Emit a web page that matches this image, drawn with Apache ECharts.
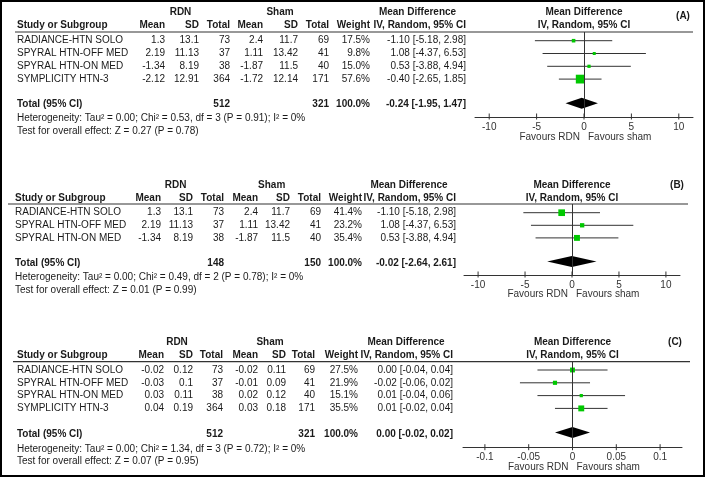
<!DOCTYPE html>
<html>
<head>
<meta charset="utf-8">
<script src="https://cdn.jsdelivr.net/npm/echarts@6/dist/echarts.min.js"></script>
<style>html,body{margin:0;padding:0;background:#fff}#c{width:709px;height:478px}</style>
</head>
<body>
<div id="c"></div>
<script>
// ---------- DATA ----------
const studiesA = ['RADIANCE-HTN SOLO', 'SPYRAL HTN-OFF MED', 'SPYRAL HTN-ON MED', 'SYMPLICITY HTN-3'];
const rdnMeanA = [1.3, 2.19, -1.34, -2.12];
const rdnSdA = [13.1, 11.13, 8.19, 12.91];
const rdnNA = [73, 37, 38, 364];
const shamMeanA = [2.4, 1.11, -1.87, -1.72];
const shamSdA = [11.7, 13.42, 11.5, 12.14];
const shamNA = [69, 41, 40, 171];
const weightA = [17.5, 9.8, 15.0, 57.6];
const mdA = [-1.10, 1.08, 0.53, -0.40];
const lowA = [-5.18, -4.37, -3.88, -2.65];
const highA = [2.98, 6.53, 4.94, 1.85];
const totalA = [512, 321, -0.24, -1.95, 1.47];
const hetA = ['Heterogeneity: Tau² = 0.00; Chi² = 0.53, df = 3 (P = 0.91); I² = 0%', 'Test for overall effect: Z = 0.27 (P = 0.78)'];

const studiesB = ['RADIANCE-HTN SOLO', 'SPYRAL HTN-OFF MED', 'SPYRAL HTN-ON MED'];
const rdnMeanB = [1.3, 2.19, -1.34];
const rdnSdB = [13.1, 11.13, 8.19];
const rdnNB = [73, 37, 38];
const shamMeanB = [2.4, 1.11, -1.87];
const shamSdB = [11.7, 13.42, 11.5];
const shamNB = [69, 41, 40];
const weightB = [41.4, 23.2, 35.4];
const mdB = [-1.10, 1.08, 0.53];
const lowB = [-5.18, -4.37, -3.88];
const highB = [2.98, 6.53, 4.94];
const totalB = [148, 150, -0.02, -2.64, 2.61];
const hetB = ['Heterogeneity: Tau² = 0.00; Chi² = 0.49, df = 2 (P = 0.78); I² = 0%', 'Test for overall effect: Z = 0.01 (P = 0.99)'];

const studiesC = ['RADIANCE-HTN SOLO', 'SPYRAL HTN-OFF MED', 'SPYRAL HTN-ON MED', 'SYMPLICITY HTN-3'];
const rdnMeanC = [-0.02, -0.03, 0.03, 0.04];
const rdnSdC = [0.12, 0.1, 0.11, 0.19];
const rdnNC = [73, 37, 38, 364];
const shamMeanC = [-0.02, -0.01, 0.02, 0.03];
const shamSdC = [0.11, 0.09, 0.12, 0.18];
const shamNC = [69, 41, 40, 171];
const weightC = [27.5, 21.9, 15.1, 35.5];
const mdC = [0.00, -0.02, 0.01, 0.01];
const lowC = [-0.04, -0.06, -0.04, -0.02];
const highC = [0.04, 0.02, 0.06, 0.04];
const totalC = [512, 321, 0.00, -0.02, 0.02];
const hetC = ['Heterogeneity: Tau² = 0.00; Chi² = 1.34, df = 3 (P = 0.72); I² = 0%', 'Test for overall effect: Z = 0.07 (P = 0.95)'];

const ticksAB = [-10, -5, 0, 5, 10];
const ticksC = [-0.1, -0.05, 0, 0.05, 0.1];
const panelLabels = ['(A)', '(B)', '(C)'];
const favourLabels = ['Favours RDN', 'Favours sham'];

// ---------- LAYOUT ----------
const FONT = '"Liberation Sans", Arial, sans-serif';
const TXT = '#1a1a1a';
const GREEN = '#00c800';
const panels = [
  { studies: studiesA, rm: rdnMeanA, rs: rdnSdA, rn: rdnNA, sm: shamMeanA, ss: shamSdA, sn: shamNA, w: weightA, md: mdA, lo: lowA, hi: highA, tot: totalA, het: hetA, ticks: ticksAB, ext: 11.5,
    row0: 40.7, step: 12.8, totIdx: 5, h1: 12.5, h2: 25, hetY: [118, 131], sx: 17,
    cols: [165, 199, 230, 263, 298, 329, 370, 466], rdnC: 180.5, shamC: 280, mdHC: 417.5,
    lineY: 32, lineX1: 15, lineX2: 693, gL: 475, gW: 218, axisY: 117, favY: 137, lab: [683, 16] },
  { studies: studiesB, rm: rdnMeanB, rs: rdnSdB, rn: rdnNB, sm: shamMeanB, ss: shamSdB, sn: shamNB, w: weightB, md: mdB, lo: lowB, hi: highB, tot: totalB, het: hetB, ticks: ticksAB, ext: 11.5,
    row0: 212.7, step: 12.6, totIdx: 4, h1: 185, h2: 198.3, hetY: [277, 290], sx: 15,
    cols: [161, 193, 224, 258, 290, 321, 362, 456], rdnC: 175.7, shamC: 271.7, mdHC: 409,
    lineY: 204, lineX1: 8, lineX2: 688, gL: 464, gW: 216, axisY: 275, favY: 294, lab: [677, 185] },
  { studies: studiesC, rm: rdnMeanC, rs: rdnSdC, rn: rdnNC, sm: shamMeanC, ss: shamSdC, sn: shamNC, w: weightC, md: mdC, lo: lowC, hi: highC, tot: totalC, het: hetC, ticks: ticksC, ext: 0.125,
    row0: 370, step: 12.8, totIdx: 5, h1: 342, h2: 355.7, hetY: [449, 461.7], sx: 17,
    cols: [164, 193, 223, 258, 286, 315, 358, 453], rdnC: 177, shamC: 270, mdHC: 406,
    lineY: 361.7, lineX1: 13, lineX2: 690, gL: 463, gW: 219, axisY: 447.7, favY: 467.7, lab: [675, 342.7] }
];

const graphics = [];
function txt(s, x, y, align, bold, color) {
  graphics.push({ type: 'text', silent: true, style: {
    text: s, x: x, y: y, font: (bold ? 'bold ' : '') + '10px ' + FONT,
    fill: color || TXT, align: align, textAlign: align, verticalAlign: 'middle', textVerticalAlign: 'middle' } });
}
function fmtCI(m, l, h) { return m.toFixed(2) + ' [' + l.toFixed(2) + ', ' + h.toFixed(2) + ']'; }

const grids = [], xAxes = [], yAxes = [], series = [];

panels.forEach(function (p, k) {
  const c = p.cols;
  // headers
  txt('RDN', p.rdnC, p.h1, 'center', true);
  txt('Sham', p.shamC, p.h1, 'center', true);
  txt('Mean Difference', p.mdHC, p.h1, 'center', true);
  txt('Study or Subgroup', p.sx, p.h2, 'left', true);
  ['Mean', 'SD', 'Total', 'Mean', 'SD', 'Total', 'Weight', 'IV, Random, 95% CI'].forEach(function (h, i) {
    txt(h, c[i], p.h2, 'right', true);
  });
  const zeroX = p.gL + p.gW / 2;
  txt('Mean Difference', zeroX, p.h1, 'center', true);
  txt('IV, Random, 95% CI', zeroX, p.h2, 'center', true);
  txt(panelLabels[k], p.lab[0], p.lab[1], 'center', true);
  graphics.push({ type: 'line', silent: true, shape: { x1: p.lineX1, y1: p.lineY, x2: p.lineX2, y2: p.lineY }, style: { stroke: '#333', lineWidth: 1.2 } });
  // rows
  p.studies.forEach(function (s, i) {
    const y = p.row0 + i * p.step;
    txt(s, p.sx, y, 'left');
    txt(String(p.rm[i]), c[0], y, 'right');
    txt(String(p.rs[i]), c[1], y, 'right');
    txt(String(p.rn[i]), c[2], y, 'right');
    txt(String(p.sm[i]), c[3], y, 'right');
    txt(String(p.ss[i]), c[4], y, 'right');
    txt(String(p.sn[i]), c[5], y, 'right');
    txt(p.w[i].toFixed(1) + '%', c[6], y, 'right');
    txt(fmtCI(p.md[i], p.lo[i], p.hi[i]), c[7], y, 'right');
  });
  const ty = p.row0 + p.totIdx * p.step;
  txt('Total (95% CI)', p.sx, ty, 'left', true);
  txt(String(p.tot[0]), c[2], ty, 'right', true);
  txt(String(p.tot[1]), c[5], ty, 'right', true);
  txt('100.0%', c[6], ty, 'right', true);
  txt(fmtCI(p.tot[2], p.tot[3], p.tot[4]), c[7], ty, 'right', true);
  txt(p.het[0], p.sx, p.hetY[0], 'left');
  txt(p.het[1], p.sx, p.hetY[1], 'left');
  txt(favourLabels[0], zeroX - 4, p.favY, 'right', false, '#333');
  txt(favourLabels[1], zeroX + 4, p.favY, 'left', false, '#333');

  // grid / axes
  const top = p.lineY, h = p.axisY - p.lineY;
  grids.push({ left: p.gL, top: top, width: p.gW, height: h, containLabel: false });
  const yMin = -(p.row0 - top) / p.step, yMax = (p.axisY - p.row0) / p.step;
  yAxes.push({ gridIndex: k, type: 'value', inverse: true, min: yMin, max: yMax, show: false });
  xAxes.push({ gridIndex: k, type: 'value', min: -p.ext, max: p.ext, position: 'bottom',
    axisLine: { show: true, onZero: false, lineStyle: { color: '#333', width: 1 } },
    axisTick: { show: false },
    axisLabel: { show: true, customValues: p.ticks, fontSize: 10, fontFamily: FONT, color: '#333', margin: 5 },
    splitLine: { show: false } });

  // tick marks crossing the axis line
  series.push({ type: 'custom', xAxisIndex: k, yAxisIndex: k, z: 2, silent: true, clip: false,
    encode: { x: 0 }, data: p.ticks.map(function (t) { return [t]; }),
    renderItem: function (params, api) {
      const pt = api.coord([api.value(0), yMax]);
      return { type: 'line', shape: { x1: pt[0], y1: pt[1] - 3.5, x2: pt[0], y2: pt[1] + 2.5 }, style: { stroke: '#333', lineWidth: 1 } };
    } });
  // zero line
  series.push({ type: 'line', xAxisIndex: k, yAxisIndex: k, data: [], z: 1, silent: true,
    markLine: { silent: true, symbol: 'none', label: { show: false },
      lineStyle: { color: '#333', width: 1, type: 'solid' }, data: [{ xAxis: 0 }] } });
  // studies: CI line + weighted square
  const studyData = p.studies.map(function (s, i) { return [p.md[i], p.lo[i], p.hi[i], i, p.w[i]]; });
  series.push({ type: 'custom', xAxisIndex: k, yAxisIndex: k, z: 3, silent: true,
    encode: { x: [0, 1, 2], y: 3 }, data: studyData,
    renderItem: function (params, api) {
      const m = api.coord([api.value(0), api.value(3)]);
      const l = api.coord([api.value(1), api.value(3)]);
      const r = api.coord([api.value(2), api.value(3)]);
      const sz = Math.max(3, 1.3 + api.value(4) * 0.13);
      return { type: 'group', children: [
        { type: 'line', shape: { x1: l[0], y1: l[1], x2: r[0], y2: r[1] }, style: { stroke: '#333', lineWidth: 1 } },
        { type: 'rect', shape: { x: m[0] - sz / 2, y: m[1] - sz / 2, width: sz, height: sz }, style: { fill: GREEN } }
      ] };
    } });
  // pooled diamond
  series.push({ type: 'custom', xAxisIndex: k, yAxisIndex: k, z: 4, silent: true,
    encode: { x: [0, 1, 2], y: 3 }, data: [[p.tot[2], p.tot[3], p.tot[4], p.totIdx - 0.12]],
    renderItem: function (params, api) {
      const m = api.coord([api.value(0), api.value(3)]);
      const l = api.coord([api.value(1), api.value(3)]);
      const r = api.coord([api.value(2), api.value(3)]);
      const hh = 5.5;
      return { type: 'polygon', shape: { points: [[l[0], l[1]], [m[0], m[1] - hh], [r[0], r[1]], [m[0], m[1] + hh]] }, style: { fill: '#000' } };
    } });
});

graphics.push({ type: 'rect', silent: true, shape: { x: 1, y: 1, width: 703, height: 475 }, style: { fill: 'none', stroke: '#000', lineWidth: 2 } });

const chart = echarts.init(document.getElementById('c'), null, { renderer: 'canvas' });
chart.setOption({
  animation: false,
  backgroundColor: '#fff',
  grid: grids, xAxis: xAxes, yAxis: yAxes, series: series,
  graphic: { elements: graphics }
});
</script>
</body>
</html>
